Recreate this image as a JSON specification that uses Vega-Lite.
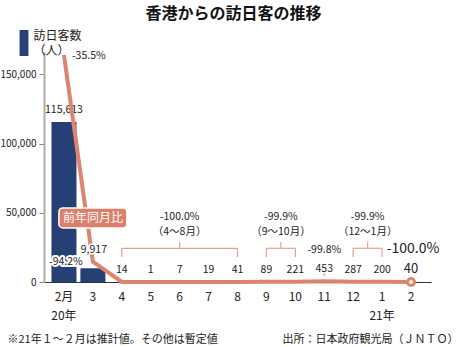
{
  "$schema": "https://vega.github.io/schema/vega-lite/v6.json",
  "autosize": "none",
  "width": 387,
  "height": 230,
  "padding": {"left": 44, "top": 52, "right": 34, "bottom": 65},
  "background": "white",
  "title": {"text": "香港からの訪日客の推移", "font": "Noto Sans CJK JP", "fontSize": 16, "fontWeight": "bold", "anchor": "middle", "frame": "group", "offset": 7, "dx": -4, "color": "#111"},
  "config": {
    "view": {"stroke": null},
    "locale": {"number": {"decimal": ".", "thousands": ",", "grouping": [3], "currency": ["", ""], "minus": "-"}},
    "axisLeft": {"format": ","},
    "text": {"font": "Noto Sans CJK JP", "fontSize": 10.5, "color": "#222"}
  },
  "datasets": {
    "monthly": [
      {"month": "2月", "visitors": 115613, "yoy": -0.355},
      {"month": "3", "visitors": 9917, "yoy": -0.942},
      {"month": "4", "visitors": 14, "yoy": -1.0},
      {"month": "5", "visitors": 1, "yoy": -1.0},
      {"month": "6", "visitors": 7, "yoy": -1.0},
      {"month": "7", "visitors": 19, "yoy": -1.0},
      {"month": "8", "visitors": 41, "yoy": -1.0},
      {"month": "9", "visitors": 89, "yoy": -0.999},
      {"month": "10", "visitors": 221, "yoy": -0.999},
      {"month": "11", "visitors": 453, "yoy": -0.998},
      {"month": "12", "visitors": 287, "yoy": -0.999},
      {"month": "1", "visitors": 200, "yoy": -0.999},
      {"month": "2", "visitors": 40, "yoy": -1.0}
    ],
    "periods": [
      {"from": "4", "to": "8", "yoy": -1.0, "span": "（4〜8月）"},
      {"from": "9", "to": "10", "yoy": -0.999, "span": "（9〜10月）"},
      {"from": "12", "to": "1", "yoy": -0.999, "span": "（12〜1月）"}
    ]
  },
  "resolve": {"scale": {"y": "independent"}},
  "layer": [
    {
      "layer": [
        {
          "data": {"name": "monthly"},
          "mark": {"type": "bar", "width": 25},
          "encoding": {
            "x": {"field": "month", "type": "nominal", "sort": null,
              "scale": {"domain": ["2月","3","4","5","6","7","8","9","10","11","12","1","2"], "paddingInner": 0.14, "paddingOuter": 0.26},
              "axis": {"title": "※21年１〜２月は推計値。その他は暫定値", "titleX": -37, "titleY": 57.7, "titleAlign": "left", "titleAnchor": null, "titleBaseline": "middle", "titleFont": "Noto Sans CJK JP", "titleFontSize": 11, "titleFontWeight": "normal", "titleColor": "#222",
                "labelAngle": 0, "ticks": false, "domainColor": "#333", "domainWidth": 1, "labelPadding": 9, "labelFont": "Noto Sans CJK JP", "labelFontSize": 12, "labelColor": "#222", "labelLineHeight": 19,
                "labelExpr": "datum.value == '2月' ? ['2月','20年'] : datum.value == '1' ? ['1','21年'] : datum.label"}},
            "y": {"field": "visitors", "type": "quantitative",
              "scale": {"domain": [0, 166100], "nice": false, "zero": true},
              "axis": {"title": ["訪日客数", "（人）"], "titleAngle": 0, "titleAlign": "left", "titleBaseline": "top", "titleAnchor": null, "titleX": -11, "titleY": -22, "titleFont": "Noto Sans CJK JP", "titleFontSize": 12, "titleFontWeight": "normal", "titleLineHeight": 15, "titleColor": "#222",
                "values": [0, 50000, 100000, 150000], "format": ",", "labelExpr": "format(datum.value, ',')", "grid": false, "tickSize": 5, "tickColor": "#888", "domainColor": "#aaa", "domainWidth": 2, "labelPadding": 3, "labelFont": "Noto Sans CJK JP", "labelFontSize": 10, "labelColor": "#222"}},
            "color": {"datum": "訪日客数", "type": "nominal",
              "scale": {"range": ["#263f74"]},
              "legend": {"orient": "none", "legendX": -33, "legendY": -22, "title": null, "symbolType": "M-0.34,-1H0.34V1H-0.34Z", "symbolSize": 676, "symbolStrokeWidth": 0, "labelExpr": "''", "labelFontSize": 1, "padding": 0}}
          }
        },
        {
          "data": {"name": "monthly"},
          "transform": [{"filter": {"not": {"field": "month", "oneOf": ["3", "2"]}}}],
          "mark": {"type": "text", "baseline": "middle", "dy": -12},
          "encoding": {
            "x": {"field": "month", "type": "nominal", "sort": null},
            "y": {"field": "visitors", "type": "quantitative"},
            "text": {"field": "visitors", "type": "quantitative", "format": ","}
          }
        },
        {
          "data": {"name": "monthly"},
          "transform": [{"filter": {"field": "month", "equal": "2"}}],
          "mark": {"type": "text", "baseline": "middle", "dy": -13, "fontSize": 13},
          "encoding": {
            "x": {"field": "month", "type": "nominal", "sort": null},
            "y": {"field": "visitors", "type": "quantitative"},
            "text": {"field": "visitors", "type": "quantitative", "format": ","}
          }
        },
        {
          "data": {"name": "monthly"},
          "transform": [{"filter": {"field": "month", "equal": "2"}}],
          "mark": {"type": "text", "baseline": "middle", "dx": 2, "fontSize": 14},
          "encoding": {
            "x": {"field": "month", "type": "nominal", "sort": null},
            "y": {"datum": 23600, "type": "quantitative"},
            "text": {"field": "yoy", "type": "quantitative", "format": ".1%"}
          }
        },
        {
          "data": {"name": "monthly"},
          "transform": [{"filter": {"field": "month", "equal": "11"}}],
          "mark": {"type": "text", "baseline": "middle"},
          "encoding": {
            "x": {"field": "month", "type": "nominal", "sort": null},
            "y": {"datum": 23110, "type": "quantitative"},
            "text": {"field": "yoy", "type": "quantitative", "format": ".1%"}
          }
        },
        {
          "data": {"name": "monthly"},
          "transform": [{"filter": {"field": "month", "equal": "11"}}],
          "mark": {"type": "rule", "color": "#e8a08e", "strokeWidth": 1.2},
          "encoding": {
            "x": {"field": "month", "type": "nominal", "sort": null},
            "y": {"datum": 4330, "type": "quantitative"},
            "y2": {"datum": 6700}
          }
        },
        {
          "data": {"name": "periods"},
          "mark": {"type": "rule", "color": "#e8a08e", "strokeWidth": 1.2},
          "encoding": {
            "x": {"field": "from", "type": "nominal", "sort": null},
            "x2": {"field": "to"},
            "y": {"datum": 24340, "type": "quantitative"}
          }
        },
        {
          "data": {"name": "periods"},
          "mark": {"type": "rule", "color": "#e8a08e", "strokeWidth": 1.2},
          "encoding": {
            "x": {"field": "from", "type": "nominal", "sort": null},
            "y": {"datum": 18050, "type": "quantitative"},
            "y2": {"datum": 24340}
          }
        },
        {
          "data": {"name": "periods"},
          "mark": {"type": "rule", "color": "#e8a08e", "strokeWidth": 1.2},
          "encoding": {
            "x": {"field": "to", "type": "nominal", "sort": null},
            "y": {"datum": 18050, "type": "quantitative"},
            "y2": {"datum": 24340}
          }
        },
        {
          "data": {"name": "periods"},
          "transform": [{"filter": {"field": "from", "equal": "4"}}],
          "mark": {"type": "rule", "color": "#e8a08e", "strokeWidth": 1.2, "xOffset": 57.8},
          "encoding": {
            "x": {"field": "from", "type": "nominal", "sort": null},
            "y": {"datum": 24340, "type": "quantitative"},
            "y2": {"datum": 29100}
          }
        },
        {
          "data": {"name": "periods"},
          "transform": [{"filter": {"not": {"field": "from", "equal": "4"}}}],
          "mark": {"type": "rule", "color": "#e8a08e", "strokeWidth": 1.2, "xOffset": 14.46},
          "encoding": {
            "x": {"field": "from", "type": "nominal", "sort": null},
            "y": {"datum": 24340, "type": "quantitative"},
            "y2": {"datum": 29100}
          }
        },
        {
          "data": {"name": "periods"},
          "transform": [{"filter": {"field": "from", "equal": "4"}}],
          "mark": {"type": "text", "baseline": "middle", "dx": 57.8},
          "encoding": {
            "x": {"field": "from", "type": "nominal", "sort": null},
            "y": {"datum": 47200, "type": "quantitative"},
            "text": {"field": "yoy", "type": "quantitative", "format": ".1%"}
          }
        },
        {
          "data": {"name": "periods"},
          "transform": [{"filter": {"field": "from", "equal": "4"}}],
          "mark": {"type": "text", "baseline": "middle", "dx": 57.8},
          "encoding": {
            "x": {"field": "from", "type": "nominal", "sort": null},
            "y": {"datum": 35800, "type": "quantitative"},
            "text": {"field": "span", "type": "nominal"}
          }
        },
        {
          "data": {"name": "periods"},
          "transform": [{"filter": {"not": {"field": "from", "equal": "4"}}}],
          "mark": {"type": "text", "baseline": "middle", "dx": 14.46},
          "encoding": {
            "x": {"field": "from", "type": "nominal", "sort": null},
            "y": {"datum": 47200, "type": "quantitative"},
            "text": {"field": "yoy", "type": "quantitative", "format": ".1%"}
          }
        },
        {
          "data": {"name": "periods"},
          "transform": [{"filter": {"not": {"field": "from", "equal": "4"}}}],
          "mark": {"type": "text", "baseline": "middle", "dx": 14.46},
          "encoding": {
            "x": {"field": "from", "type": "nominal", "sort": null},
            "y": {"datum": 35800, "type": "quantitative"},
            "text": {"field": "span", "type": "nominal"}
          }
        }
      ]
    },
    {
      "layer": [
        {
          "data": {"name": "monthly"},
          "mark": {"type": "line", "color": "#dd8470", "strokeWidth": 4},
          "encoding": {
            "x": {"field": "month", "type": "nominal", "sort": null},
            "y": {"field": "yoy", "type": "quantitative",
              "scale": {"domain": [-1, -0.3466], "nice": false, "zero": false},
              "axis": {"orient": "right", "labels": false, "ticks": false, "domain": false, "grid": false,
                "title": "出所：日本政府観光局（ＪＮＴＯ）", "titleAngle": 0, "titleAlign": "right", "titleBaseline": "middle", "titleAnchor": null,
                "titleX": 27, "titleY": 287.7, "titleFont": "Noto Sans CJK JP", "titleFontSize": 11, "titleFontWeight": "normal", "titleColor": "#222"}}
          }
        },
        {
          "data": {"name": "monthly"},
          "transform": [{"filter": {"field": "month", "equal": "2"}}],
          "mark": {"type": "point", "filled": true, "fill": "white", "stroke": "#dd8470", "strokeWidth": 3, "size": 50, "opacity": 1},
          "encoding": {
            "x": {"field": "month", "type": "nominal", "sort": null},
            "y": {"field": "yoy", "type": "quantitative"}
          }
        },
        {
          "data": {"name": "monthly"},
          "transform": [{"filter": {"field": "month", "equal": "3"}}],
          "mark": {"type": "text", "baseline": "middle", "dx": 1, "stroke": "white", "strokeWidth": 3, "strokeJoin": "round"},
          "encoding": {
            "x": {"field": "month", "type": "nominal", "sort": null},
            "y": {"datum": -0.909, "type": "quantitative"},
            "text": {"field": "visitors", "type": "quantitative", "format": ","}
          }
        },
        {
          "data": {"name": "monthly"},
          "transform": [{"filter": {"field": "month", "equal": "3"}}],
          "mark": {"type": "text", "baseline": "middle", "dx": 1},
          "encoding": {
            "x": {"field": "month", "type": "nominal", "sort": null},
            "y": {"datum": -0.909, "type": "quantitative"},
            "text": {"field": "visitors", "type": "quantitative", "format": ","}
          }
        },
        {
          "data": {"name": "monthly"},
          "transform": [{"filter": {"field": "month", "equal": "2月"}}],
          "mark": {"type": "text", "align": "left", "baseline": "middle", "dx": 8, "dy": 1},
          "encoding": {
            "x": {"field": "month", "type": "nominal", "sort": null},
            "y": {"field": "yoy", "type": "quantitative"},
            "text": {"field": "yoy", "type": "quantitative", "format": ".1%"}
          }
        },
        {
          "data": {"name": "monthly"},
          "transform": [{"filter": {"field": "month", "equal": "3"}}],
          "mark": {"type": "text", "baseline": "middle", "dx": -27, "stroke": "white", "strokeWidth": 4, "strokeJoin": "round"},
          "encoding": {
            "x": {"field": "month", "type": "nominal", "sort": null},
            "y": {"field": "yoy", "type": "quantitative"},
            "text": {"field": "yoy", "type": "quantitative", "format": ".1%"}
          }
        },
        {
          "data": {"name": "monthly"},
          "transform": [{"filter": {"field": "month", "equal": "3"}}],
          "mark": {"type": "text", "baseline": "middle", "dx": -27},
          "encoding": {
            "x": {"field": "month", "type": "nominal", "sort": null},
            "y": {"field": "yoy", "type": "quantitative"},
            "text": {"field": "yoy", "type": "quantitative", "format": ".1%"}
          }
        },
        {
          "data": {"values": [{"series": "前年同月比"}]},
          "mark": {"type": "point", "filled": true, "fill": "#dc806b", "stroke": "white", "strokeWidth": 1.5, "opacity": 1, "size": 4624,
            "shape": "M-0.882,-0.294H0.882A0.118,0.118 0 0 1 1,-0.176V0.176A0.118,0.118 0 0 1 0.882,0.294H-0.882A0.118,0.118 0 0 1 -1,0.176V-0.176A0.118,0.118 0 0 1 -0.882,-0.294Z"},
          "encoding": {
            "x": {"datum": "3", "type": "nominal"},
            "y": {"datum": -0.818, "type": "quantitative"}
          }
        },
        {
          "data": {"values": [{"series": "前年同月比"}]},
          "mark": {"type": "text", "baseline": "middle", "color": "white", "fontSize": 12},
          "encoding": {
            "x": {"datum": "3", "type": "nominal"},
            "y": {"datum": -0.818, "type": "quantitative"},
            "text": {"field": "series", "type": "nominal"}
          }
        }
      ]
    }
  ]
}
